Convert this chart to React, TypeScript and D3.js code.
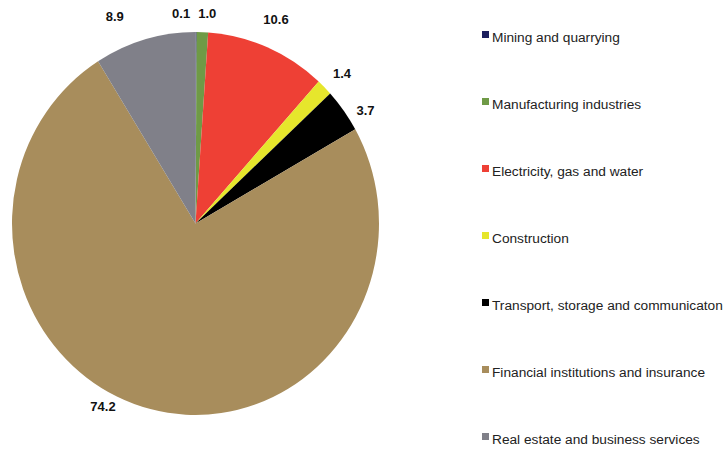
import React from "react";
import * as d3 from "d3";

const categories = [
  "Mining and quarrying",
  "Manufacturing industries",
  "Electricity, gas and water",
  "Construction",
  "Transport, storage and communicaton",
  "Financial institutions and insurance",
  "Real estate and business services",
];
const values = [0.1, 1.0, 10.6, 1.4, 3.7, 74.2, 8.9];
const valueLabels = ["0.1", "1.0", "10.6", "1.4", "3.7", "74.2", "8.9"];
const colors = ["#1c1f5e", "#6f9a46", "#ee4035", "#e6e62c", "#000000", "#a88d5c", "#808089"];
// label nudges (px) relative to computed outer label position
const labelNudgeX = [-15, 4, 0, 2, 4, -42, -24];
const labelNudgeY = [3, 3, -8, 2, 13, -24, -2];

const W = 728;
const H = 452;
const cx = 195.5;
const cy = 223.5;
const rx = 183.5;
const ry = 191.5;

export default function App() {
  const pie = d3.pie<number>().sort(null).value((d) => d);
  const arcs = pie(values);
  const arc = d3.arc<d3.PieArcDatum<number>>().innerRadius(0).outerRadius(rx);
  const sy = ry / rx;
  const labelOff = 22;

  const legendY = d3.scalePoint<string>().domain(categories).range([37, 439]);

  return (
    <svg
      width={W}
      height={H}
      style={{ position: "absolute", left: 0, top: 0, background: "#fff" }}
      fontFamily="Arial, 'Liberation Sans', sans-serif"
    >
      <g transform={`translate(${cx},${cy}) scale(1,${sy})`}>
        {arcs.map((a, i) => (
          <path key={i} d={arc(a) || ""} fill={colors[i]} />
        ))}
      </g>
      {arcs.map((a, i) => {
        const mid = (a.startAngle + a.endAngle) / 2;
        const x = cx + (rx + labelOff) * Math.sin(mid) + labelNudgeX[i];
        const y = cy - (ry + labelOff) * Math.cos(mid) + labelNudgeY[i];
        return (
          <text
            key={i}
            x={x}
            y={y}
            textAnchor="middle"
            dominantBaseline="central"
            fontSize={13}
            fontWeight="bold"
            fill="#111"
          >
            {valueLabels[i]}
          </text>
        );
      })}
      {categories.map((c, i) => {
        const y = legendY(c) as number;
        return (
          <g key={c}>
            <rect x={482} y={y - 6} width={7} height={7} fill={colors[i]} />
            <text x={492} y={y} dominantBaseline="central" fontSize={13.7} fill="#222">
              {c}
            </text>
          </g>
        );
      })}
    </svg>
  );
}
